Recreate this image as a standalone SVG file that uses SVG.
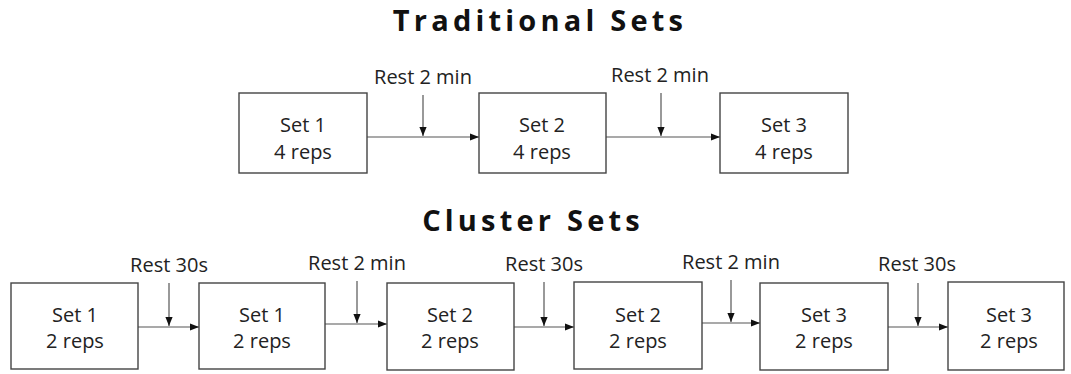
<svg xmlns="http://www.w3.org/2000/svg" width="1071" height="374" viewBox="0 0 1071 374">
<style>
.box{fill:#fff;stroke:#444;stroke-width:1.4}
.t{font-family:"Open Sans","Liberation Sans",sans-serif;font-size:20px;fill:#222;text-anchor:middle}
.r{font-family:"Open Sans","Liberation Sans",sans-serif;font-size:20px;fill:#222;text-anchor:middle}
.h{font-family:"Open Sans","Liberation Sans",sans-serif;font-size:29px;font-weight:bold;fill:#111;text-anchor:middle;letter-spacing:4.2px}
.c{stroke:#555;stroke-width:1.2;fill:none;marker-end:url(#ah)}
</style>
<defs>
<marker id="ah" viewBox="0 0 10 10" refX="10" refY="5" markerWidth="9" markerHeight="9" markerUnits="userSpaceOnUse" orient="auto">
<path d="M0,1 L10,5 L0,9 Z" fill="#111"/>
</marker>
</defs>
<rect width="1071" height="374" fill="#fff"/>
<text class="h" x="540" y="31">Traditional Sets</text>
<text class="h" x="533" y="231">Cluster Sets</text>
<g id="connectors">
<line class="c" x1="367" y1="137" x2="479" y2="137"/>
<line class="c" x1="423" y1="95" x2="423" y2="136"/>
<line class="c" x1="606" y1="137" x2="720" y2="137"/>
<line class="c" x1="661" y1="93" x2="661" y2="136"/>
<line class="c" x1="138" y1="327" x2="199" y2="327"/>
<line class="c" x1="169" y1="283" x2="169" y2="326"/>
<line class="c" x1="325" y1="324" x2="387" y2="324"/>
<line class="c" x1="357" y1="281" x2="357" y2="323"/>
<line class="c" x1="514" y1="327" x2="574" y2="327"/>
<line class="c" x1="544" y1="282" x2="544" y2="326"/>
<line class="c" x1="702" y1="323" x2="760" y2="323"/>
<line class="c" x1="731" y1="280" x2="731" y2="322"/>
<line class="c" x1="888" y1="327" x2="948" y2="327"/>
<line class="c" x1="918" y1="283" x2="918" y2="326"/>
</g>
<g id="labels">
<text class="r" x="423" y="84">Rest 2 min</text>
<text class="r" x="660" y="82">Rest 2 min</text>
<text class="r" x="169" y="272">Rest 30s</text>
<text class="r" x="357" y="270">Rest 2 min</text>
<text class="r" x="544" y="271">Rest 30s</text>
<text class="r" x="731" y="269">Rest 2 min</text>
<text class="r" x="917" y="271">Rest 30s</text>
</g>
<g id="t1"><rect class="box" x="239" y="93" width="128" height="80"/><text class="t" x="303" y="132">Set 1</text><text class="t" x="303" y="159">4 reps</text></g>
<g id="t2"><rect class="box" x="479" y="93" width="127" height="80"/><text class="t" x="542" y="132">Set 2</text><text class="t" x="542" y="159">4 reps</text></g>
<g id="t3"><rect class="box" x="720" y="93" width="128" height="80"/><text class="t" x="784" y="132">Set 3</text><text class="t" x="784" y="159">4 reps</text></g>
<g id="c1"><rect class="box" x="11" y="283" width="127" height="86"/><text class="t" x="75" y="322">Set 1</text><text class="t" x="75" y="348">2 reps</text></g>
<g id="c2"><rect class="box" x="199" y="283" width="126" height="86"/><text class="t" x="262" y="322">Set 1</text><text class="t" x="262" y="348">2 reps</text></g>
<g id="c3"><rect class="box" x="387" y="283" width="127" height="87"/><text class="t" x="450" y="322">Set 2</text><text class="t" x="450" y="348">2 reps</text></g>
<g id="c4"><rect class="box" x="574" y="282" width="128" height="87"/><text class="t" x="638" y="322">Set 2</text><text class="t" x="638" y="348">2 reps</text></g>
<g id="c5"><rect class="box" x="760" y="283" width="128" height="87"/><text class="t" x="824" y="322">Set 3</text><text class="t" x="824" y="348">2 reps</text></g>
<g id="c6"><rect class="box" x="948" y="282" width="116" height="88"/><text class="t" x="1009" y="322">Set 3</text><text class="t" x="1009" y="348">2 reps</text></g>
</svg>
